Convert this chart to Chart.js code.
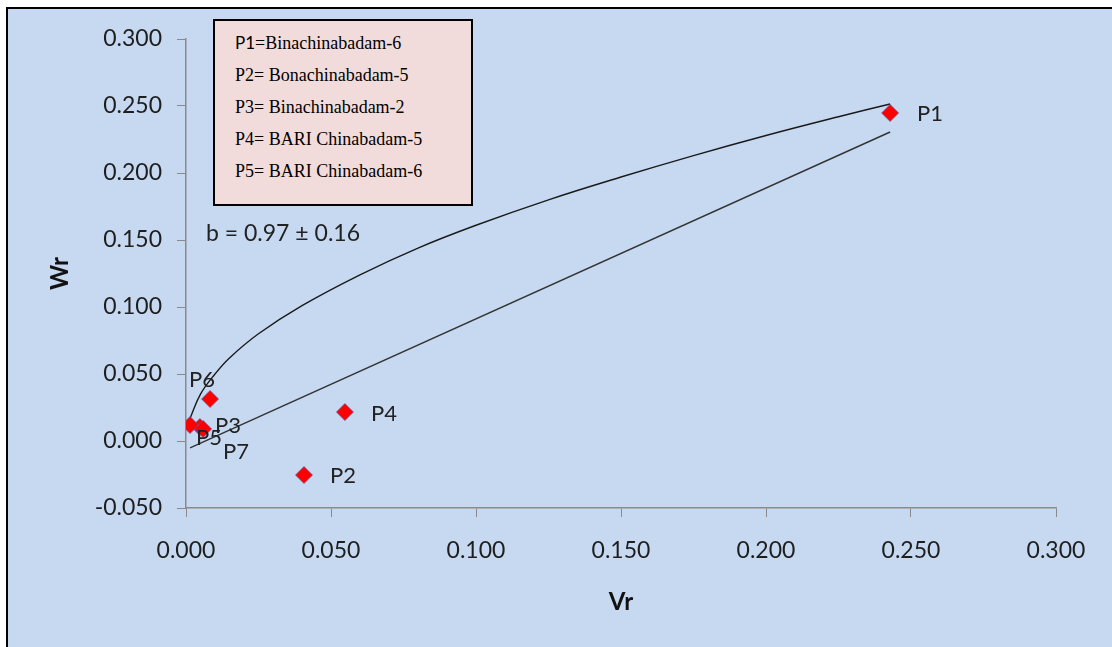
<!DOCTYPE html>
<html>
<head>
<meta charset="utf-8">
<script src="https://cdn.jsdelivr.net/npm/chart.js@4"></script>
<style>
  html, body { margin:0; padding:0; width:1112px; height:647px; overflow:hidden; background:#fff; }
  #frame { position:absolute; left:6px; top:7px; width:1200px; height:700px;
           border-left:2px solid #000; border-top:2px solid #000; background:#c6d9f1; }
  #wrap { position:absolute; left:0; top:0; width:1112px; height:647px; }
  #keyBox { position:absolute; left:213px; top:19px; width:236px; height:177px;
            border:2px solid #000; background:#f2dcdb; padding:6px 0 0 20px; box-sizing:content-box;
            font-family:"Liberation Serif","Times New Roman",serif; font-size:18px; line-height:32px; color:#000; }
  #keyBox div { white-space:nowrap; }
  #keyBox .sans { font-family:Lato, sans-serif; font-size:17px; }
  #slope { position:absolute; left:206px; top:218px; font-family:Lato, sans-serif; font-size:23px; color:#222; white-space:nowrap; }
</style>
</head>
<body>
<div id="frame"></div>
<div id="wrap"><canvas id="chart" width="1112" height="647"></canvas></div>
<div id="keyBox"></div>
<div id="slope">b = 0.97 ± 0.16</div>
<script>
// parents (Vr, Wr)
const pointNames = ['P1', 'P2', 'P3', 'P4', 'P5', 'P6', 'P7'];
const vrValues = [0.2428, 0.0407, 0.0048, 0.0548, 0.0014, 0.0083, 0.0059];
const wrValues = [0.2448, -0.0254, 0.0104, 0.0216, 0.0119, 0.0313, 0.0090];

// limiting parabola
const curveVr = [0.0014, 0.005, 0.010, 0.015, 0.025, 0.040, 0.060, 0.080, 0.100,
                 0.125, 0.150, 0.175, 0.200, 0.225, 0.2428];
const curveWr = [0.0170, 0.035, 0.050, 0.062, 0.080, 0.101, 0.124, 0.144, 0.161,
                 0.180, 0.197, 0.213, 0.228, 0.242, 0.2515];

// regression line ends
const regVr = [0.0014, 0.2428];
const regWr = [-0.0052, 0.2306];

const keyLines = ['P1=Binachinabadam-6', 'P2= Bonachinabadam-5', 'P3= Binachinabadam-2',
                  'P4= BARI Chinabadam-5', 'P5= BARI Chinabadam-6'];

keyLines.forEach((t, i) => {
  const d = document.createElement('div');
  if (i === 0) d.innerHTML = '<span class="sans">P1</span>=Binachinabadam-6';
  else d.textContent = t;
  document.getElementById('keyBox').appendChild(d);
});

const zip = (xs, ys) => xs.map((x, i) => ({ x, y: ys[i] }));

// label offsets from the marker centre (left edge of text, middle)
const labelOffsets = {
  P1: [27, 1], P2: [26, 1], P3: [15, -1], P4: [26, 2],
  P5: [6, 13], P6: [-21, -19], P7: [20, 23]
};

const pointLabels = {
  id: 'pointLabels',
  afterDatasetsDraw(chart) {
    const ctx = chart.ctx;
    const meta = chart.getDatasetMeta(0);
    ctx.save();
    ctx.font = '22px Lato, sans-serif';
    ctx.fillStyle = '#222';
    ctx.textAlign = 'left';
    ctx.textBaseline = 'middle';
    meta.data.forEach((el, i) => {
      const name = pointNames[i];
      const off = labelOffsets[name] || [26, 0];
      ctx.fillText(name, el.x + off[0], el.y + off[1]);
    });
    ctx.restore();
  }
};

const fmt = v => (Math.abs(v) < 1e-9 ? 0 : v).toFixed(3);
const axisGray = '#8a8a8a';

new Chart(document.getElementById('chart'), {
  type: 'scatter',
  data: {
    datasets: [
      { label: 'Parents', data: zip(vrValues, wrValues), pointStyle: 'rectRot', pointRadius: 8.5,
        backgroundColor: '#ff0000', borderColor: 'rgba(90,90,170,0.7)', borderWidth: 1, order: 0 },
      { label: 'Parabola', data: zip(curveVr, curveWr), showLine: true, pointRadius: 0,
        borderColor: '#1a1a1a', borderWidth: 1.4, tension: 0.4, order: 1 },
      { label: 'Regression', data: zip(regVr, regWr), showLine: true, pointRadius: 0,
        borderColor: '#333', borderWidth: 1.4, order: 2 }
    ]
  },
  options: {
    responsive: false,
    animation: false,
    layout: { padding: { top: 39, right: 56, left: 0, bottom: 0 } },
    plugins: { legend: { display: false }, tooltip: { enabled: false } },
    scales: {
      x: {
        type: 'linear', min: 0, max: 0.3,
        afterFit: s => { s.height = 139; },
        ticks: { stepSize: 0.05, callback: fmt, color: '#1e1e1e', padding: 20,
                 font: { family: 'Lato, sans-serif', size: 23 } },
        grid: { drawOnChartArea: false, drawTicks: true, tickLength: 9, color: axisGray },
        border: { display: true, color: axisGray, width: 1.5 },
        title: { display: true, text: 'Vr', color: '#111', padding: { bottom: 30 },
                 font: { family: 'Lato, sans-serif', size: 24, weight: 'bold' } }
      },
      y: {
        type: 'linear', min: -0.05, max: 0.3,
        afterFit: s => { s.width = 186; },
        ticks: { stepSize: 0.05, callback: fmt, color: '#1e1e1e', padding: 15,
                 font: { family: 'Lato, sans-serif', size: 23 } },
        grid: { drawOnChartArea: false, drawTicks: true, tickLength: 9, color: axisGray },
        border: { display: true, color: axisGray, width: 1.5 },
        title: { display: true, text: 'Wr', color: '#111', padding: { top: 46 },
                 font: { family: 'Lato, sans-serif', size: 24, weight: 'bold' } }
      }
    }
  },
  plugins: [pointLabels]
});
</script>
</body>
</html>
